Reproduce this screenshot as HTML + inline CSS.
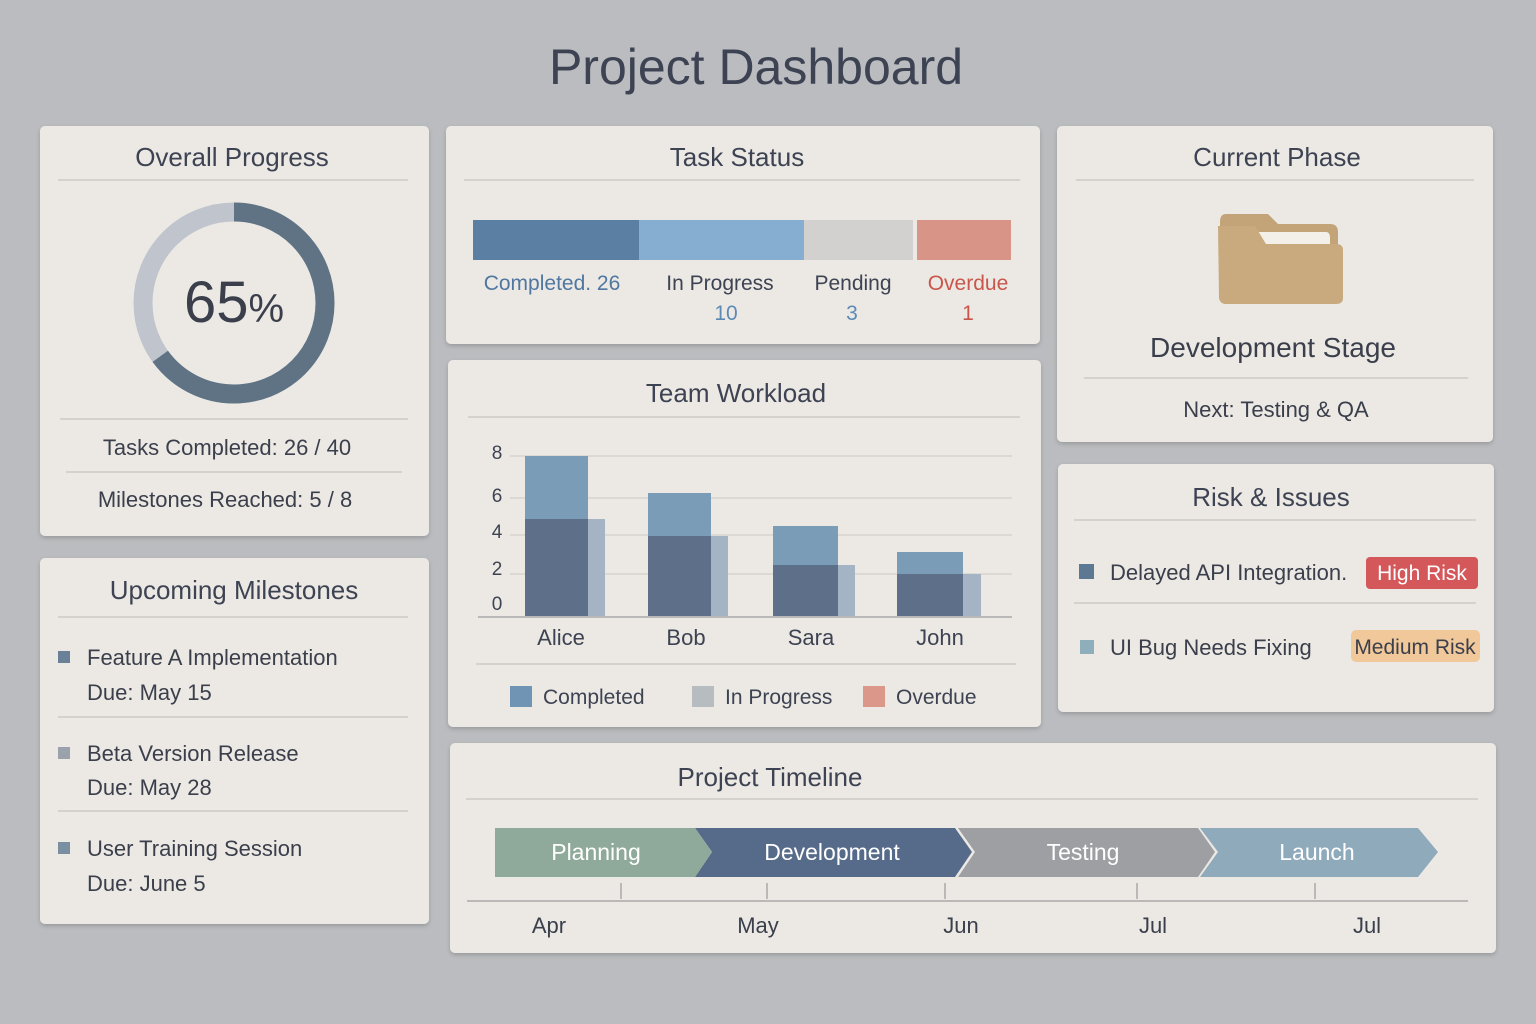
<!DOCTYPE html>
<html><head><meta charset="utf-8"><style>
body{margin:0;background:#babcbf;}
svg{display:block;font-family:"Liberation Sans",sans-serif;}
</style></head><body>
<svg width="1536" height="1024" viewBox="0 0 1536 1024">
<defs><filter id="sh" x="-5%" y="-5%" width="110%" height="115%"><feDropShadow dx="0" dy="2" stdDeviation="2" flood-color="#000" flood-opacity="0.18"/></filter></defs>
<rect width="1536" height="1024" fill="#babcbf"/>
<text x="756" y="84" text-anchor="middle" font-size="50" fill="#3d4352">Project Dashboard</text>
<g fill="#ece9e5" filter="url(#sh)">
<rect x="40" y="126" width="389" height="410" rx="5"/>
<rect x="40" y="558" width="389" height="366" rx="5"/>
<rect x="446" y="126" width="594" height="218" rx="5"/>
<rect x="448" y="360" width="593" height="367" rx="5"/>
<rect x="1057" y="126" width="436" height="316" rx="5"/>
<rect x="1058" y="464" width="436" height="248" rx="5"/>
<rect x="450" y="743" width="1046" height="210" rx="5"/>
</g>
<g stroke="#cdcac6" stroke-width="1.5">
<line x1="58" y1="180" x2="408" y2="180"/><line x1="60" y1="419" x2="408" y2="419"/><line x1="66" y1="472" x2="402" y2="472"/>
<line x1="58" y1="617" x2="408" y2="617"/><line x1="58" y1="717" x2="408" y2="717"/><line x1="58" y1="811" x2="408" y2="811"/>
<line x1="464" y1="180" x2="1020" y2="180"/><line x1="468" y1="417" x2="1020" y2="417"/><line x1="476" y1="664" x2="1016" y2="664"/>
<line x1="1076" y1="180" x2="1474" y2="180"/><line x1="1084" y1="378" x2="1468" y2="378"/>
<line x1="1074" y1="520" x2="1476" y2="520"/><line x1="1074" y1="603" x2="1476" y2="603"/>
<line x1="466" y1="799" x2="1478" y2="799"/>
</g>
<g fill="#3d4352" font-size="26" text-anchor="middle">
<text x="232" y="166">Overall Progress</text>
<text x="234" y="599">Upcoming Milestones</text>
<text x="737" y="166">Task Status</text>
<text x="736" y="402">Team Workload</text>
<text x="1277" y="166">Current Phase</text>
<text x="1271" y="506">Risk &amp; Issues</text>
<text x="770" y="786">Project Timeline</text>
</g>
<!-- donut -->
<circle cx="234" cy="303" r="91" fill="none" stroke="#c0c4cc" stroke-width="19"/>
<circle cx="234" cy="303" r="91" fill="none" stroke="#5f7384" stroke-width="19" stroke-dasharray="371.7 600" transform="rotate(-90 234 303)"/>
<text x="234" y="322" text-anchor="middle" fill="#3a3f4b" font-size="58">65<tspan font-size="40">%</tspan></text>
<text x="227" y="455" text-anchor="middle" font-size="22" fill="#3a3f4b">Tasks Completed:  26 / 40</text>
<text x="225" y="507" text-anchor="middle" font-size="22" fill="#3a3f4b">Milestones Reached:  5 / 8</text>
<!-- milestones -->
<g font-size="22" fill="#3a3f4b">
<rect x="58" y="651" width="12" height="12" fill="#6a8096"/><text x="87" y="665">Feature A Implementation</text><text x="87" y="700">Due: May 15</text>
<rect x="58" y="747" width="12" height="12" fill="#9aa3ab"/><text x="87" y="761">Beta Version Release</text><text x="87" y="795">Due: May 28</text>
<rect x="58" y="842" width="12" height="12" fill="#7c8fa2"/><text x="87" y="856">User Training Session</text><text x="87" y="891">Due: June 5</text>
</g>
<!-- task status -->
<rect x="473" y="220" width="166" height="40" fill="#5b7ea3"/>
<rect x="639" y="220" width="165" height="40" fill="#86aed0"/>
<rect x="804" y="220" width="109" height="40" fill="#d3d1cf"/>
<rect x="917" y="220" width="94" height="40" fill="#d99488"/>
<g font-size="21" text-anchor="middle">
<text x="552" y="290" fill="#4f77a0">Completed. 26</text>
<text x="720" y="290" fill="#3d4352">In Progress</text><text x="726" y="320" fill="#5d8ab5">10</text>
<text x="853" y="290" fill="#3d4352">Pending</text><text x="852" y="320" fill="#5d8ab5">3</text>
<text x="968" y="290" fill="#c8564a">Overdue</text><text x="968" y="320" fill="#c8564a">1</text>
</g>
<!-- workload -->
<g stroke="#d2cfcb" stroke-width="1.2">
<line x1="510" y1="456" x2="1012" y2="456"/><line x1="510" y1="498" x2="1012" y2="498"/><line x1="510" y1="535" x2="1012" y2="535"/><line x1="510" y1="574" x2="1012" y2="574"/>
</g>
<line x1="478" y1="617" x2="1012" y2="617" stroke="#a9a9aa" stroke-width="1.5"/>
<g font-size="19" fill="#3d4352" text-anchor="middle"><text x="497" y="459">8</text><text x="497" y="502">6</text><text x="497" y="538">4</text><text x="497" y="575">2</text><text x="497" y="610">0</text></g>
<g fill="#a5b4c4"><rect x="588" y="519" width="17" height="97"/><rect x="711" y="536" width="17" height="80"/><rect x="838" y="565" width="17" height="51"/><rect x="963" y="574" width="18" height="42"/></g>
<g fill="#7a9cb7"><rect x="525" y="456" width="63" height="63"/><rect x="648" y="493" width="63" height="43"/><rect x="773" y="526" width="65" height="39"/><rect x="897" y="552" width="66" height="22"/></g>
<g fill="#5e7089"><rect x="525" y="519" width="63" height="97"/><rect x="648" y="536" width="63" height="80"/><rect x="773" y="565" width="65" height="51"/><rect x="897" y="574" width="66" height="42"/></g>
<g font-size="22" fill="#3d4352" text-anchor="middle"><text x="561" y="645">Alice</text><text x="686" y="645">Bob</text><text x="811" y="645">Sara</text><text x="940" y="645">John</text></g>
<rect x="510" y="686" width="22" height="21" fill="#6f94b4"/><text x="543" y="704" font-size="21" fill="#3d4352">Completed</text>
<rect x="692" y="686" width="22" height="21" fill="#b7bcc0"/><text x="725" y="704" font-size="21" fill="#3d4352">In Progress</text>
<rect x="863" y="686" width="22" height="21" fill="#dc978b"/><text x="896" y="704" font-size="21" fill="#3d4352">Overdue</text>
<!-- folder -->
<path d="M1226 214 H1268 L1278 224 H1330 Q1338 224 1338 232 V296 Q1338 304 1330 304 H1226 Q1220 304 1220 296 V222 Q1220 214 1226 214Z" fill="#c2a478"/>
<path d="M1256 232 H1326 Q1330 232 1330 238 V250 H1256Z" fill="#f3efe9"/>
<path d="M1218 226 H1255 L1266 244 H1336 Q1343 244 1343 250 V298 Q1343 304 1336 304 H1226 Q1220 304 1219 298Z" fill="#c8aa7e"/>
<text x="1273" y="357" text-anchor="middle" font-size="28" fill="#3a3f4b">Development Stage</text>
<text x="1276" y="417" text-anchor="middle" font-size="22" fill="#3a3f4b">Next: Testing &amp; QA</text>
<!-- risk -->
<rect x="1079" y="564" width="15" height="15" fill="#5d7893"/>
<text x="1110" y="580" font-size="22" fill="#3a3f4b">Delayed API Integration.</text>
<rect x="1366" y="557" width="112" height="32" rx="4" fill="#d4575a"/>
<text x="1422" y="580" text-anchor="middle" font-size="21" fill="#fff">High Risk</text>
<rect x="1080" y="640" width="14" height="14" fill="#8eaebb"/>
<text x="1110" y="655" font-size="22" fill="#3a3f4b">UI Bug Needs Fixing</text>
<rect x="1351" y="630" width="129" height="32" rx="5" fill="#f0c89a"/>
<text x="1415" y="654" text-anchor="middle" font-size="21" fill="#3a3f4b">Medium Risk</text>
<!-- timeline -->
<polygon points="1200,828 1418,828 1438,852 1418,877 1200,877 1218,852" fill="#8eaabb"/>
<polygon points="958,828 1198,828 1215,852 1198,877 958,877 975,852" fill="#9d9fa2"/>
<polygon points="695,828 955,828 972,852 955,877 695,877 712,852" fill="#566b89"/>
<polygon points="495,828 695,828 712,852 695,877 495,877" fill="#8fa99b"/>
<g font-size="23" fill="#fff" text-anchor="middle"><text x="596" y="860">Planning</text><text x="832" y="860">Development</text><text x="1083" y="860">Testing</text><text x="1317" y="860">Launch</text></g>
<g stroke="#aaa9a8" stroke-width="1.5"><line x1="621" y1="883" x2="621" y2="899"/><line x1="767" y1="883" x2="767" y2="899"/><line x1="945" y1="883" x2="945" y2="899"/><line x1="1137" y1="883" x2="1137" y2="899"/><line x1="1315" y1="883" x2="1315" y2="899"/><line x1="467" y1="901" x2="1468" y2="901"/></g>
<g font-size="22" fill="#3a3f4b" text-anchor="middle"><text x="549" y="933">Apr</text><text x="758" y="933">May</text><text x="961" y="933">Jun</text><text x="1153" y="933">Jul</text><text x="1367" y="933">Jul</text></g>
</svg>
</body></html>
